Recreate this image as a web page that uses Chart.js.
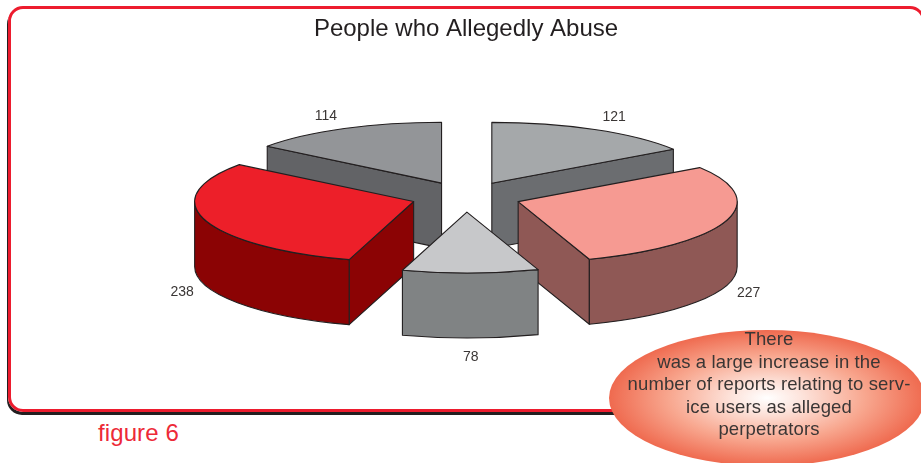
<!DOCTYPE html>
<html><head><meta charset="utf-8">
<style>
html,body{margin:0;padding:0;background:#fff;overflow:hidden}
body{width:921px;height:463px;position:relative;font-family:"Liberation Sans",Arial,sans-serif}
#frame{position:absolute;left:8px;top:6px;width:911px;height:400px;border:3px solid #ed1c2e;border-radius:15px;box-shadow:-1px 3px 0 #231f20}
#c{position:absolute;left:0;top:0;z-index:2}
#fig{position:absolute;left:98px;top:419px;font-size:24px;line-height:28px;color:#ed2a38;letter-spacing:.1px}
#bubble{position:absolute;left:609px;top:330px;width:316px;height:136px;border-radius:50%;z-index:3;
background:radial-gradient(closest-side,#ffffff 0%,#fde4dc 22%,#f8a78f 62%,#ef6a4f 100%)}
#btext{position:absolute;left:609px;top:328px;width:320px;z-index:4;text-align:center;font-size:18.5px;letter-spacing:.12px;line-height:22.5px;color:#3a3635;white-space:nowrap}
</style></head><body>
<div id="frame"></div>
<canvas id="c" width="921" height="463"></canvas>
<div id="fig">figure 6</div>
<div id="bubble"></div>
<div id="btext">There<br>was a large increase in the<br>number of reports relating to serv-<br>ice users as alleged<br>perpetrators</div>
<script src="https://cdn.jsdelivr.net/npm/chart.js@4"></script>
<script>
const titleText = "People who Allegedly Abuse";
const categories = ["121","227","78","238","114"];
const values = [121,227,78,238,114];
const topColors = ["#a5a8aa","#f69a92","#c7c8ca","#ed1f29","#939598"];
const sideColors = ["#6b6d70","#8f5855","#808384","#8b0304","#626366"];
const explode = 55, drawnRadius = 219, squash = 0.278, depth = 65, centerY = 196.8, ink = "#231f20";

const pie3d = {
  id: "pie3d",
  beforeDatasetDraw(chart, args) {
    const ctx = chart.ctx, meta = args.meta;
    const items = meta.data.map((arc, i) => {
      const p = arc.getProps(["x","y","startAngle","endAngle","outerRadius"], true);
      const mid = (p.startAngle + p.endAngle) / 2;
      return {arc, i, a: p.startAngle, b: p.endAngle, mid, R: p.outerRadius, xArc: p.x, yArc: p.y,
        ax: p.x + Math.cos(mid) * explode, ay: centerY + Math.sin(mid) * explode * squash};
    }).sort((u, v) => Math.sin(u.mid) - Math.sin(v.mid));
    items.forEach(s => {
      const rx = s.R, ry = s.R * squash;
      ctx.save();
      ctx.lineWidth = 1.1; ctx.strokeStyle = ink; ctx.fillStyle = sideColors[s.i]; ctx.lineJoin = "round";
      const X = t => s.ax + rx * Math.cos(t), Y = t => s.ay + ry * Math.sin(t);
      const face = t => {
        ctx.beginPath(); ctx.moveTo(s.ax, s.ay); ctx.lineTo(X(t), Y(t));
        ctx.lineTo(X(t), Y(t) + depth); ctx.lineTo(s.ax, s.ay + depth); ctx.closePath(); ctx.fill(); ctx.stroke();
      };
      if (-Math.cos(s.a) > 1e-6) face(s.a);
      if (Math.cos(s.b) > 1e-6) face(s.b);
      const a0 = Math.max(s.a, 0), a1 = Math.min(s.b, Math.PI);
      if (a1 > a0) {
        ctx.beginPath(); ctx.ellipse(s.ax, s.ay, rx, ry, 0, a0, a1);
        ctx.lineTo(X(a1), Y(a1) + depth);
        ctx.ellipse(s.ax, s.ay + depth, rx, ry, 0, a1, a0, true);
        ctx.closePath(); ctx.fill(); ctx.stroke();
      }
      ctx.restore();
      ctx.save();
      ctx.translate(s.ax, s.ay); ctx.scale(1, squash); ctx.translate(-s.xArc, -s.yArc);
      s.arc.draw(ctx, chart.chartArea);
      ctx.restore();
      ctx.save();
      ctx.lineWidth = 1.1; ctx.strokeStyle = ink; ctx.lineJoin = "round";
      ctx.beginPath(); ctx.moveTo(s.ax, s.ay); ctx.ellipse(s.ax, s.ay, rx, ry, 0, s.a, s.b); ctx.closePath(); ctx.stroke();
      ctx.restore();
    });
    ctx.save();
    ctx.font = "14px 'Liberation Sans', Arial, sans-serif"; ctx.fillStyle = "#3a3635";
    ctx.textAlign = "center"; ctx.textBaseline = "middle";
    items.forEach(s => {
      const sn = Math.sin(s.mid), front = sn > 0;
      const x = s.ax + Math.cos(s.mid) * s.R * (front ? 1.11 : 1.19);
      const y = s.ay + sn * s.R * squash * (front ? 1.3 : 1.25) + (front ? depth + 1 : 1);
      ctx.fillText(categories[s.i], x, y);
    });
    ctx.restore();
    return false;
  }
};

new Chart(document.getElementById("c"), {
  type: "pie",
  data: { labels: categories, datasets: [{ data: values, backgroundColor: topColors, borderWidth: 0 }] },
  options: {
    responsive: false, animation: false, events: [],
    radius: drawnRadius,
    layout: { padding: { left: 11 } },
    plugins: {
      legend: { display: false }, tooltip: { enabled: false },
      title: { display: true, text: titleText, color: "#231f20", font: { family: "'Liberation Sans', Arial, sans-serif", size: 24, weight: "normal" }, padding: { top: 15, bottom: 0 } }
    }
  },
  plugins: [pie3d]
});
</script>
</body></html>
